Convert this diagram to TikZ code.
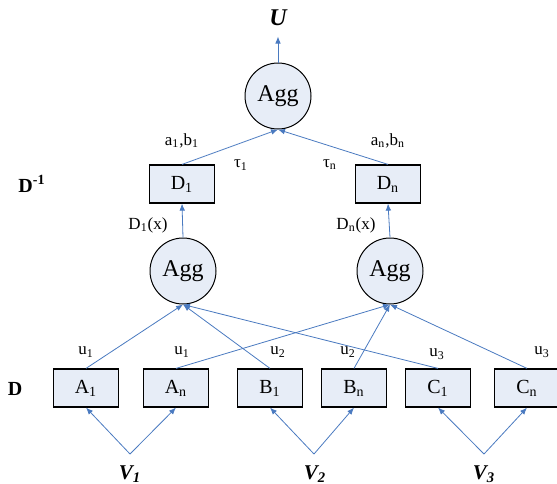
\documentclass[tikz,border=0pt]{standalone}
\usepackage{fontspec}
\setmainfont{Liberation Serif}
\usetikzlibrary{arrows.meta}

\definecolor{boxfill}{RGB}{231,237,247}
\definecolor{linkblue}{RGB}{74,122,192}

\tikzset{
  agg/.style={circle,draw,line width=0.5pt,fill=boxfill,minimum size=33pt,inner sep=0pt,font=\fontsize{12}{14}\selectfont},
  dbox/.style={rectangle,draw,line width=0.6pt,fill=boxfill,minimum width=32.5pt,minimum height=19pt,inner sep=0pt,font=\fontsize{10}{12}\selectfont},
  link/.style={-{Latex[length=3.5pt,width=2.8pt]},draw=linkblue,line width=0.4pt},
  edge label/.style={font=\fontsize{8.5}{10}\selectfont},
  level label/.style={font=\fontsize{10}{12}\selectfont\bfseries},
  var label/.style={font=\fontsize{10.5}{12}\selectfont\bfseries\itshape}
}

\begin{document}
\begin{tikzpicture}[x=0.5pt,y=-0.5pt]
\useasboundingbox (0,0) rectangle (557,483);

% Output
\node[var label,font=\fontsize{12}{14}\selectfont\bfseries\itshape] (out) at (278,18) {U};
\node[agg] (top) at (278,96) {Agg};

% Inverse layer
\node[dbox] (d1) at (182,184) {D\textsubscript{1}};
\node[dbox] (dn) at (388,184) {D\textsubscript{n}};
\node[level label] (dinv) at (32,184) {D\textsuperscript{-1}};

% Middle aggregators
\node[agg] (aggl) at (183,271) {Agg};
\node[agg] (aggr) at (390,271) {Agg};

% Input boxes
\node[dbox] (a1) at (86,388) {A\textsubscript{1}};
\node[dbox] (an) at (176,388) {A\textsubscript{n}};
\node[dbox] (b1) at (270,388) {B\textsubscript{1}};
\node[dbox] (bn) at (354,388) {B\textsubscript{n}};
\node[dbox] (c1) at (438,388) {C\textsubscript{1}};
\node[dbox] (cn) at (527,388) {C\textsubscript{n}};
\node[level label] (dlev) at (15,389) {D};

% Variables
\coordinate (v1) at (130,454);
\coordinate (v2) at (314,454);
\coordinate (v3) at (484,454);
\node[var label] (v1lab) at (130,474) {V\textsubscript{1}};
\node[var label] (v2lab) at (315,474) {V\textsubscript{2}};
\node[var label] (v3lab) at (484,474) {V\textsubscript{3}};

% Variables to boxes
\draw[link] (v1) -- (a1.south);
\draw[link] (v1) -- (an.south);
\draw[link] (v2) -- (b1.south);
\draw[link] (v2) -- (bn.south);
\draw[link] (v3) -- (c1.south);
\draw[link] (v3) -- (cn.south);

% Boxes to aggregators
\draw[link] (a1.north) -- (aggl.south);
\draw[link] (b1.north) -- (aggl.south);
\draw[link] (c1.north) -- (aggl.south);
\draw[link] (an.north) -- (aggr.south);
\draw[link] (bn.north) -- (aggr.south);
\draw[link] (cn.north) -- (aggr.south);

% Aggregators upward
\draw[link] (aggl.north) -- (d1.south);
\draw[link] (aggr.north) -- (dn.south);
\draw[link] (d1.north) -- (top.south);
\draw[link] (dn.north) -- (top.south);
\draw[link] (top.north) -- ++(0,-26);

% Edge labels
\node[edge label] (l1) at (86,352) {u\textsubscript{1}};
\node[edge label] (l2) at (182,352) {u\textsubscript{1}};
\node[edge label] (l3) at (278,352) {u\textsubscript{2}};
\node[edge label] (l4) at (348,352) {u\textsubscript{2}};
\node[edge label] (l5) at (437,354) {u\textsubscript{3}};
\node[edge label] (l6) at (542,352) {u\textsubscript{3}};
\node[edge label] (dx1) at (148,225) {D\textsubscript{1}(x)};
\node[edge label] (dxn) at (356,225) {D\textsubscript{n}(x)};
\node[edge label] (ab1) at (182,141) {a\textsubscript{1},b\textsubscript{1}};
\node[edge label] (abn) at (388,141) {a\textsubscript{n},b\textsubscript{n}};
\node[edge label] (t1) at (241,165) {τ\textsubscript{1}};
\node[edge label] (tn) at (330,165) {τ\textsubscript{n}};

\end{tikzpicture}
\end{document}
